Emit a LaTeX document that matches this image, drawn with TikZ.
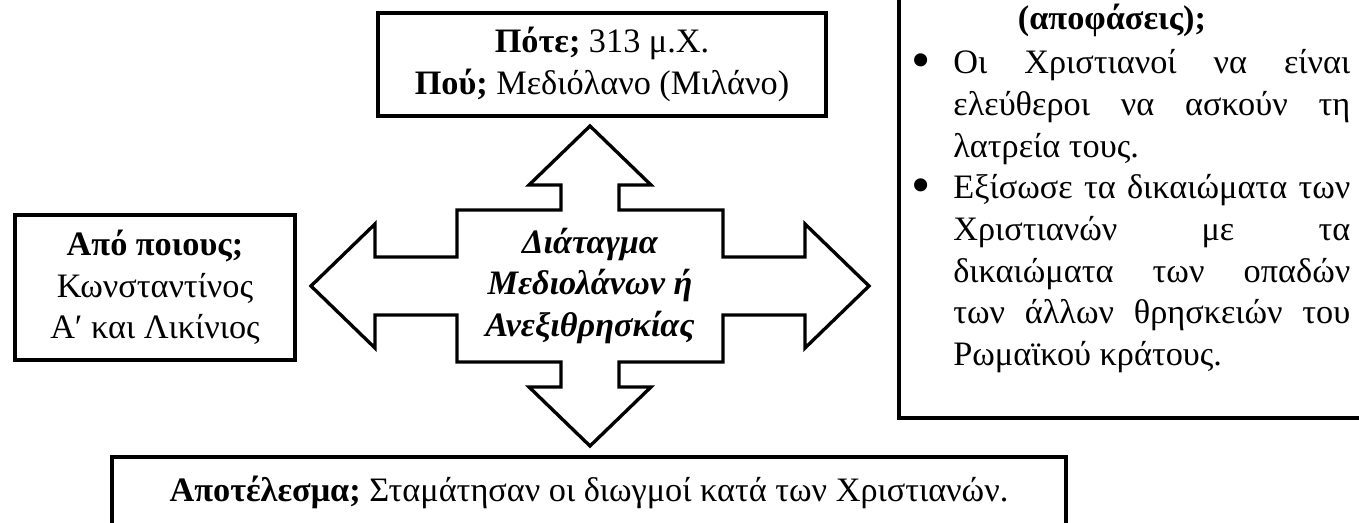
\documentclass[tikz,border=0pt]{standalone}
\usepackage{fontspec}
\setmainfont{Liberation Serif}
\usetikzlibrary{positioning}
\newcommand{\jline}[1]{\makebox[\linewidth][s]{#1}}
\newcommand{\bul}{\llap{\raisebox{-0.13em}{\scalebox{1.6}{\textbullet}}\hspace{0.45cm}}}
\begin{document}
\begin{tikzpicture}[text-box/.style={
                rectangle, draw=black, line width=2.2pt, align=center, inner sep=0pt,
                font=\fontsize{19.5}{23.7}\selectfont},
                plain-text/.style={inner sep=0pt, font=\fontsize{19.5}{23.7}\selectfont},
                cross-line/.style={draw=black, line width=1.9pt, line join=miter}]
                \useasboundingbox (0,0) rectangle (27.18,10.44);
                \clip (0,0) rectangle (27.18,10.44);
                \node[text-box, minimum width=8.95cm, minimum height=2.05cm] (Q1) at (12.04,9.15) {\textbf{Πότε;} 313 μ.Χ.\\ \textbf{Πού;} Μεδιόλανο (Μιλάνο)};
                \node[text-box, minimum width=5.6cm, minimum height=2.9cm] (Q2) at (3.10,4.69) {\textbf{Από ποιους;}\\ Κωνσταντίνος\\ Α′ και Λικίνιος};
                \node[text-box, minimum width=10cm, minimum height=9.5cm, anchor=south west] (Q3) at (17.94,2.04) {};
                \node[plain-text, anchor=base] (Q3h) at (22.24,9.84) {\textbf{(αποφάσεις);}};
                \node[plain-text, anchor=base west] (Q3t) at (19.06,8.96) {\parbox[t]{7.94cm}{%
                    \jline{\bul Οι Χριστιανοί να είναι}\\
                    \jline{ελεύθεροι να ασκούν τη}\\
                    λατρεία τους.\\
                    \jline{\bul Εξίσωσε τα δικαιώματα των}\\
                    \jline{Χριστιανών με τα}\\
                    \jline{δικαιώματα των οπαδών}\\
                    \jline{των άλλων θρησκειών του}\\
                    Ρωμαϊκού κράτους.}};
                \node[text-box, minimum width=19.08cm, minimum height=1.40cm] (Q4) at (11.78,0.60) {\textbf{Αποτέλεσμα;} Σταμάτησαν οι διωγμοί κατά των Χριστιανών.};
                \node[plain-text, align=center, font=\fontsize{19.5}{23.7}\selectfont\bfseries\itshape] (E) at (11.80,4.72) {Διάταγμα\\ Μεδιολάνων ή\\ Ανεξιθρησκίας};
                \draw[cross-line, shift={(E.center)}] (5.58,0) -- (4.30,1.24) -- (4.30,0.58) -- (2.66,0.58) -- (2.66,1.52)
                    -- (0.58,1.52) -- (0.58,2.02) -- (1.22,2.02) -- (0,3.20) -- (-1.22,2.02) -- (-0.58,2.02) -- (-0.58,1.52)
                    -- (-2.66,1.52) -- (-2.66,0.58) -- (-4.30,0.58) -- (-4.30,1.24) -- (-5.58,0) -- (-4.30,-1.24) -- (-4.30,-0.58)
                    -- (-2.66,-0.58) -- (-2.66,-1.52) -- (-0.58,-1.52) -- (-0.58,-2.02) -- (-1.22,-2.02) -- (0,-3.20) -- (1.22,-2.02)
                    -- (0.58,-2.02) -- (0.58,-1.52) -- (2.66,-1.52) -- (2.66,-0.58) -- (4.30,-0.58) -- (4.30,-1.24) -- cycle;
            \end{tikzpicture}
\end{document}
